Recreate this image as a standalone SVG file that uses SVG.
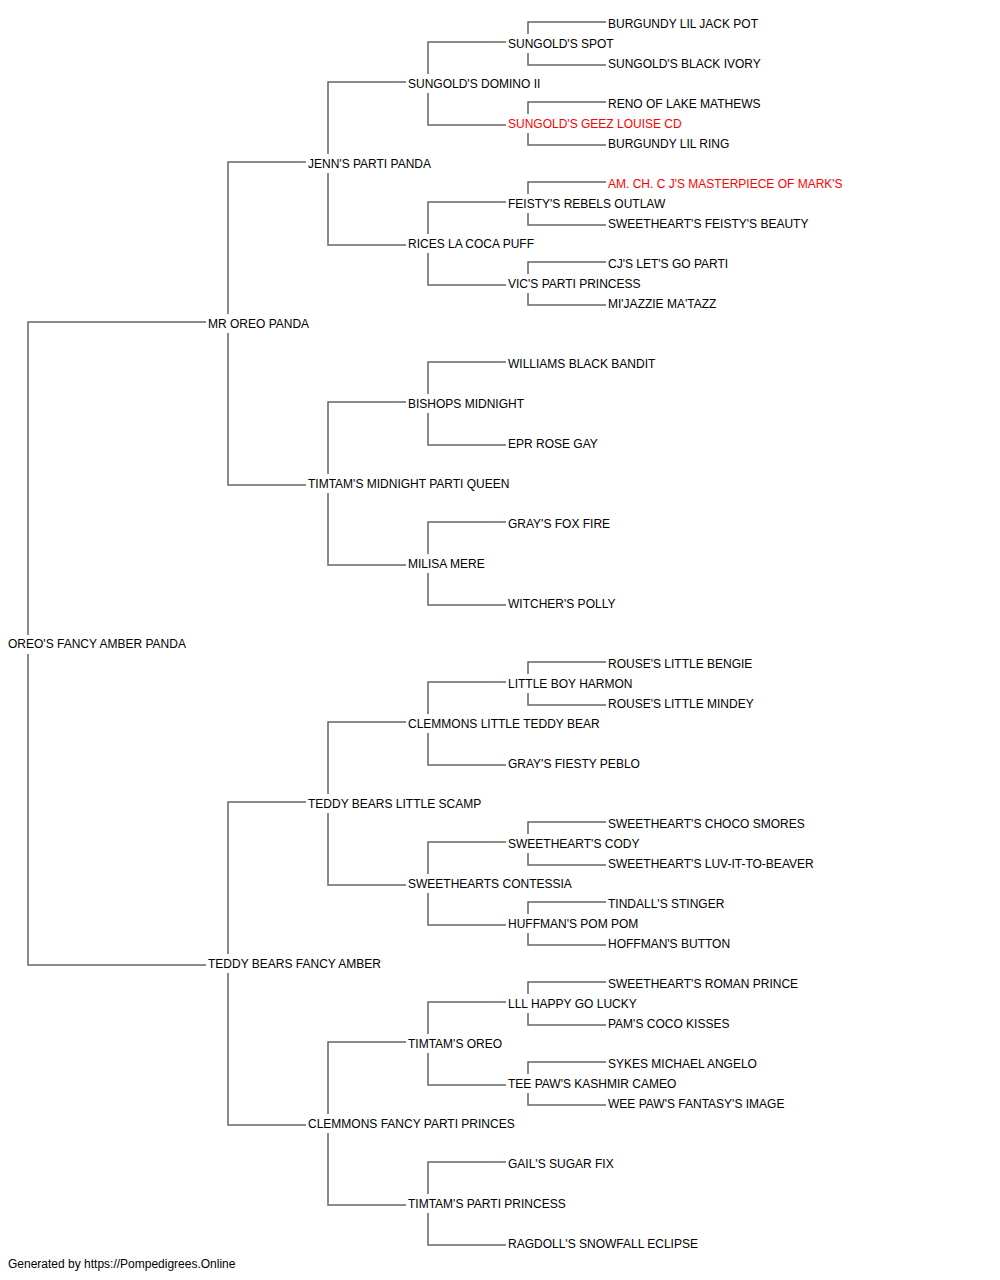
<svg xmlns="http://www.w3.org/2000/svg" width="1000" height="1280" viewBox="0 0 1000 1280">
<style>
text{font-family:"Liberation Sans",Arial,sans-serif;font-size:12px;fill:#000}
text.red{fill:#ff0000}
.conn path{fill:none;stroke:#666;stroke-width:1.5}
</style>
<rect width="1000" height="1280" fill="#fff"/>
<g class="conn" id="connectors">
<path d="M206 322 H28 V635 M28 654 V965 H206"/>
<path d="M306 162 H228 V314 M228 333 V485 H306"/>
<path d="M306 802 H228 V954 M228 973 V1125 H306"/>
<path d="M406 82 H328 V154 M328 173 V245 H406"/>
<path d="M406 402 H328 V474 M328 493 V565 H406"/>
<path d="M406 722 H328 V794 M328 813 V885 H406"/>
<path d="M406 1042 H328 V1114 M328 1133 V1205 H406"/>
<path d="M506 42 H428 V74 M428 93 V125 H506"/>
<path d="M506 202 H428 V234 M428 253 V285 H506"/>
<path d="M506 362 H428 V394 M428 413 V445 H506"/>
<path d="M506 522 H428 V554 M428 573 V605 H506"/>
<path d="M506 682 H428 V714 M428 733 V765 H506"/>
<path d="M506 842 H428 V874 M428 893 V925 H506"/>
<path d="M506 1002 H428 V1034 M428 1053 V1085 H506"/>
<path d="M506 1162 H428 V1194 M428 1213 V1245 H506"/>
<path d="M606 22 H528 V34 M528 53 V65 H606"/>
<path d="M606 102 H528 V114 M528 133 V145 H606"/>
<path d="M606 182 H528 V194 M528 213 V225 H606"/>
<path d="M606 262 H528 V274 M528 293 V305 H606"/>
<path d="M606 662 H528 V674 M528 693 V705 H606"/>
<path d="M606 822 H528 V834 M528 853 V865 H606"/>
<path d="M606 902 H528 V914 M528 933 V945 H606"/>
<path d="M606 982 H528 V994 M528 1013 V1025 H606"/>
<path d="M606 1062 H528 V1074 M528 1093 V1105 H606"/>
</g>
<g id="n0"><text x="8" y="648">OREO'S FANCY AMBER PANDA</text></g>
<g id="n1"><text x="208" y="328">MR OREO PANDA</text></g>
<g id="n2"><text x="208" y="968">TEDDY BEARS FANCY AMBER</text></g>
<g id="n3"><text x="308" y="168">JENN'S PARTI PANDA</text></g>
<g id="n4"><text x="308" y="488">TIMTAM'S MIDNIGHT PARTI QUEEN</text></g>
<g id="n5"><text x="308" y="808">TEDDY BEARS LITTLE SCAMP</text></g>
<g id="n6"><text x="308" y="1128">CLEMMONS FANCY PARTI PRINCES</text></g>
<g id="n7"><text x="408" y="88">SUNGOLD'S DOMINO II</text></g>
<g id="n8"><text x="408" y="248">RICES LA COCA PUFF</text></g>
<g id="n9"><text x="408" y="408">BISHOPS MIDNIGHT</text></g>
<g id="n10"><text x="408" y="568">MILISA MERE</text></g>
<g id="n11"><text x="408" y="728">CLEMMONS LITTLE TEDDY BEAR</text></g>
<g id="n12"><text x="408" y="888">SWEETHEARTS CONTESSIA</text></g>
<g id="n13"><text x="408" y="1048">TIMTAM'S OREO</text></g>
<g id="n14"><text x="408" y="1208">TIMTAM'S PARTI PRINCESS</text></g>
<g id="n15"><text x="508" y="48">SUNGOLD'S SPOT</text></g>
<g id="n16"><text x="508" y="128" class="red">SUNGOLD'S GEEZ LOUISE CD</text></g>
<g id="n17"><text x="508" y="208">FEISTY'S REBELS OUTLAW</text></g>
<g id="n18"><text x="508" y="288">VIC'S PARTI PRINCESS</text></g>
<g id="n19"><text x="508" y="368">WILLIAMS BLACK BANDIT</text></g>
<g id="n20"><text x="508" y="448">EPR ROSE GAY</text></g>
<g id="n21"><text x="508" y="528">GRAY'S FOX FIRE</text></g>
<g id="n22"><text x="508" y="608">WITCHER'S POLLY</text></g>
<g id="n23"><text x="508" y="688">LITTLE BOY HARMON</text></g>
<g id="n24"><text x="508" y="768">GRAY'S FIESTY PEBLO</text></g>
<g id="n25"><text x="508" y="848">SWEETHEART'S CODY</text></g>
<g id="n26"><text x="508" y="928">HUFFMAN'S POM POM</text></g>
<g id="n27"><text x="508" y="1008">LLL HAPPY GO LUCKY</text></g>
<g id="n28"><text x="508" y="1088">TEE PAW'S KASHMIR CAMEO</text></g>
<g id="n29"><text x="508" y="1168">GAIL'S SUGAR FIX</text></g>
<g id="n30"><text x="508" y="1248">RAGDOLL'S SNOWFALL ECLIPSE</text></g>
<g id="n31"><text x="608" y="28">BURGUNDY LIL JACK POT</text></g>
<g id="n32"><text x="608" y="68">SUNGOLD'S BLACK IVORY</text></g>
<g id="n33"><text x="608" y="108">RENO OF LAKE MATHEWS</text></g>
<g id="n34"><text x="608" y="148">BURGUNDY LIL RING</text></g>
<g id="n35"><text x="608" y="188" class="red">AM. CH. C J'S MASTERPIECE OF MARK'S</text></g>
<g id="n36"><text x="608" y="228">SWEETHEART'S FEISTY'S BEAUTY</text></g>
<g id="n37"><text x="608" y="268">CJ'S LET'S GO PARTI</text></g>
<g id="n38"><text x="608" y="308">MI'JAZZIE MA'TAZZ</text></g>
<g id="n39"><text x="608" y="668">ROUSE'S LITTLE BENGIE</text></g>
<g id="n40"><text x="608" y="708">ROUSE'S LITTLE MINDEY</text></g>
<g id="n41"><text x="608" y="828">SWEETHEART'S CHOCO SMORES</text></g>
<g id="n42"><text x="608" y="868">SWEETHEART'S LUV-IT-TO-BEAVER</text></g>
<g id="n43"><text x="608" y="908">TINDALL'S STINGER</text></g>
<g id="n44"><text x="608" y="948">HOFFMAN'S BUTTON</text></g>
<g id="n45"><text x="608" y="988">SWEETHEART'S ROMAN PRINCE</text></g>
<g id="n46"><text x="608" y="1028">PAM'S COCO KISSES</text></g>
<g id="n47"><text x="608" y="1068">SYKES MICHAEL ANGELO</text></g>
<g id="n48"><text x="608" y="1108">WEE PAW'S FANTASY'S IMAGE</text></g>
<text x="8" y="1268">Generated by https://Pompedigrees.Online</text>
</svg>
